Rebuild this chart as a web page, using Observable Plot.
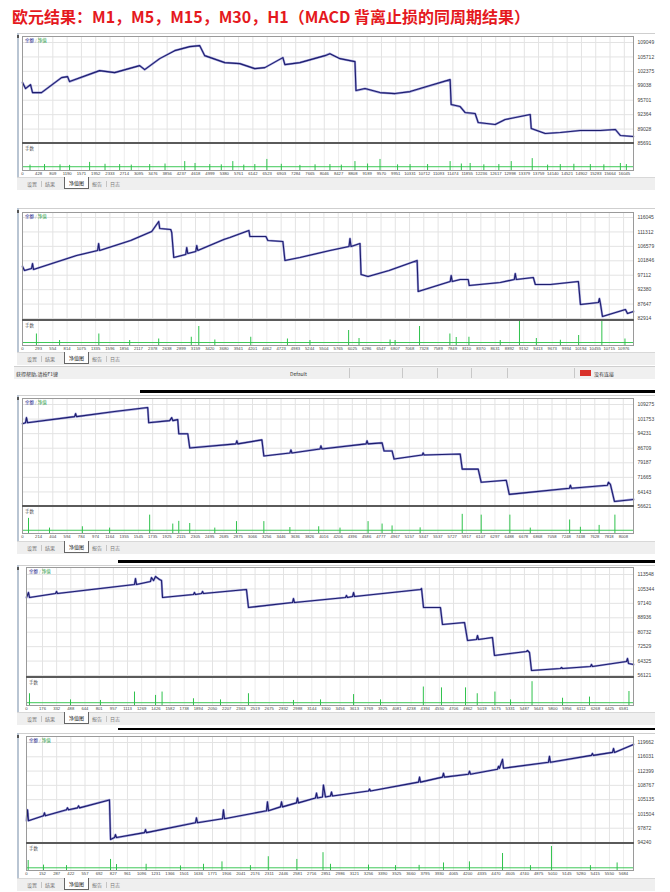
<!DOCTYPE html>
<html><head><meta charset="utf-8">
<script src="https://cdn.jsdelivr.net/npm/d3@7"></script>
<script src="https://cdn.jsdelivr.net/npm/@observablehq/plot@0.6"></script>
<style>
html,body{margin:0;padding:0;background:#fff;}
body{width:670px;height:892px;position:relative;overflow:hidden;font-family:"Liberation Sans","Noto Sans CJK SC",sans-serif;}
body > *{position:absolute;}
#title{left:12px;top:4px;font-weight:bold;font-size:16px;font-family:"Noto Sans CJK SC",sans-serif;color:#e5191e;white-space:nowrap;}
.tab{position:absolute;top:2px;font-size:5px;color:#777;font-family:"Noto Sans CJK SC",sans-serif;white-space:nowrap;}
.sb{position:absolute;top:3px;font-size:5px;color:#333;font-family:"Noto Sans CJK SC",sans-serif;white-space:nowrap;}
</style></head>
<body>
<div id="title"></div>
<script>
const titleText = "欧元结果：M1，M5，M15，M30，H1（MACD 背离止损的同周期结果）";
const tabNames = ["设置", "结果", "净值图", "报告", "日志"];
const legendMain = ["余额", "净值"];
const legendSub = "手数";
const statusTexts = ["获得帮助,请按F1键", "Default", "没有连接"];

// ---- M1 ----
const m1Ticks = [0,428,809,1190,1571,1952,2333,2714,3095,3476,3856,4237,4618,4999,5380,5761,6142,6523,6903,7284,7665,8046,8427,8808,9189,9570,9951,10331,10712,11093,11474,11855,12236,12617,12998,13379,13759,14140,14521,14902,15283,15664,16045];
const m1Levels = [109049,105712,102375,99038,95701,92364,89028,85691];
const m1XMax = 16290;
const m1Balance = [[0,99776],[80,98391],[214,99314],[267,97467],[507,97467],[1041,100930],[1202,101161],[1255,100006],[2056,102547],[2456,102085],[3124,103701],[3257,102778],[3658,105318],[4058,107165],[4459,108088],[4726,108319],[4859,106010],[5393,104394],[5794,104163],[6194,103009],[6461,103240],[6942,105549],[6995,103932],[7396,104394],[8063,106010],[8197,106472],[8464,105318],[8864,104625],[8891,97929],[9131,98391],[9532,97467],[9932,97236],[10333,97698],[10867,99083],[11401,100468],[11428,94696],[11668,94234],[11801,92849],[12068,92618],[12149,90540],[12602,90078],[12869,91233],[13537,92387],[13564,89154],[13937,88000],[14338,88231],[14872,88693],[15406,88693],[15806,88924],[15940,87538],[16287,87307]];
const m1Lots = [[587,2.2],[1255,1.9],[1789,3.0],[2590,2.2],[3391,2.2],[4325,3.3],[4993,2.2],[5607,3.3],[6194,2.2],[6515,4.1],[7396,1.9],[8197,2.2],[8864,3.3],[9532,4.1],[10333,2.2],[11401,3.3],[11935,2.6],[13030,3.3],[13590,4.4],[14338,2.2],[15139,2.2],[15940,2.6],[200,2.0],[1000,2.1],[2200,2.3],[2900,2.0],[3800,2.4],[4600,2.6],[5300,2.1],[5900,2.0],[6900,2.3],[7800,2.1],[8500,2.0],[9200,2.4],[10000,2.1],[10800,2.2],[11700,2.4],[12300,2.1],[12700,2.2],[14000,2.0],[14700,2.3],[15500,2.1],[16100,2.2]];
const m1LotsBase = 1.4;

// ---- M5 ----
const m5Ticks = [0,293,554,814,1075,1335,1596,1856,2117,2378,2638,2899,3159,3420,3680,3941,4201,4462,4723,4983,5244,5504,5765,6025,6286,6547,6807,7068,7328,7589,7849,8110,8370,8631,8892,9152,9413,9673,9934,10194,10455,10715,10976];
const m5Levels = [116045,111312,106579,101846,97112,92380,87647,82914];
const m5XMax = 11157;
const m5Balance = [[0,99970],[37,98658],[165,99314],[183,100954],[201,98986],[988,103578],[1372,105218],[1390,107514],[1408,105218],[1975,108498],[2359,111450],[2487,114730],[2506,112434],[2707,112106],[2725,111122],[2762,102922],[2981,103906],[2999,106202],[3018,104234],[3164,104890],[3182,106858],[3201,105218],[3676,108826],[3786,109482],[4134,111778],[4152,109810],[4444,109810],[4481,108498],[4755,108170],[4792,101938],[5066,102922],[5615,105218],[5962,106530],[5980,109154],[5999,106530],[6163,107514],[6182,97346],[6310,96690],[6694,98658],[7206,101938],[7225,91770],[7810,95050],[7828,97018],[7847,95050],[7993,95706],[8139,95706],[8157,93738],[8724,94722],[8980,95706],[8998,97674],[9017,95706],[9328,96362],[9364,94066],[9639,94066],[10151,95050],[10188,87506],[10517,88162],[10535,89474],[10553,87834],[10590,83570],[11010,85866],[11047,84554],[11157,85210]];
const m5Lots = [[254,4.6],[1394,4.6],[2487,2.6],[3082,3.3],[3219,7.6],[4168,3.3],[4838,2.6],[5955,6.0],[6145,2.8],[7250,7.6],[7804,4.6],[7920,3.2],[8152,3.3],[9075,9.9],[9383,2.8],[10155,4.0],[10579,9.9],[11001,2.6],[677,2.0],[1957,2.0],[3512,2.2],[5249,2.0],[6712,2.2],[8724,2.0],[9822,2.1],[6804,2.0]];
const m5LotsBase = 1.2;

// ---- M15 ----
const m15Ticks = [0,214,404,594,784,974,1164,1355,1545,1735,1925,2115,2305,2495,2685,2875,3066,3256,3446,3636,3826,4016,4206,4396,4586,4777,4967,5157,5347,5537,5727,5917,6107,6297,6488,6678,6868,7058,7248,7438,7628,7818,8008];
const m15Levels = [109275,101753,94231,86709,79187,71665,64143,56621];
const m15XMax = 8144;
const m15Balance = [[0,99368],[40,99889],[53,102495],[67,99889],[694,103016],[708,104580],[721,103016],[1228,105623],[1669,107708],[1682,99889],[1962,100932],[1989,102495],[2003,100932],[2069,101453],[2083,94155],[2203,94155],[2229,86856],[2844,88941],[2857,90505],[2870,88941],[3191,91027],[3217,82686],[3564,84250],[3578,85814],[3591,84250],[3965,86335],[3978,87899],[3991,86335],[4579,88941],[4592,90505],[4606,88941],[4793,89462],[4819,85293],[4926,85293],[4953,81123],[5327,83207],[5340,84250],[5354,83207],[5834,83728],[5861,75909],[6074,75909],[6114,69132],[6448,70175],[6488,62877],[7289,66004],[7303,67569],[7316,66004],[7796,67569],[7810,69132],[7836,68090],[7890,59228],[8144,60270]];
const m15Lots = [[80,5.6],[798,2.5],[1695,6.8],[2083,4.5],[2003,3.5],[2229,3.7],[2852,4.4],[3217,4.4],[3948,2.5],[4606,4.4],[4793,3.5],[4926,2.8],[5861,7.1],[6114,6.8],[6496,6.8],[7293,5.0],[7686,3.0],[7896,6.8],[360,2.0],[1161,2.0],[2563,2.0],[3564,2.2],[4232,2.0],[5300,2.1],[6768,2.0],[7436,2.3]];
const m15LotsBase = 1.2;

// ---- M30 ----
const m30Ticks = [0,176,332,488,644,801,957,1113,1269,1426,1582,1738,1894,2050,2207,2363,2519,2675,2832,2988,3144,3300,3456,3613,3769,3925,4081,4238,4394,4550,4706,4862,5019,5175,5331,5487,5643,5800,5956,6112,6268,6425,6581];
const m30Levels = [113548,105344,97140,88936,80732,72529,64325,56121];
const m30XMax = 6689;
const m30Balance = [[0,100464],[22,103307],[33,100464],[320,102738],[331,103876],[342,102738],[1190,107855],[1201,111266],[1212,107855],[1366,109560],[1377,111834],[1400,110129],[1422,112402],[1466,110697],[1488,110129],[1499,100464],[1840,102170],[1851,103307],[1862,102170],[1929,102738],[1940,103876],[1951,102738],[2424,105010],[2446,94779],[2931,97621],[2942,99895],[2953,97621],[3515,100464],[3526,101601],[3537,100464],[3593,101033],[3604,103307],[3615,101033],[4342,105010],[4353,105578],[4375,94779],[4562,94779],[4584,85115],[4827,86252],[4860,76018],[4959,76587],[4970,78861],[4981,76587],[5135,77724],[5157,67491],[5510,69765],[5521,70333],[5543,69197],[5565,58963],[5885,60101],[5896,60669],[5907,60101],[6215,61238],[6226,62375],[6237,61238],[6612,64080],[6623,65786],[6634,62943],[6689,62375]];
const m30Lots = [[33,4.2],[1190,4.8],[1422,3.6],[1494,4.8],[1840,2.4],[2446,4.2],[2942,1.8],[3604,3.9],[4373,6.6],[4573,6.3],[4838,6.3],[4967,4.2],[5162,4.8],[5571,8.5],[5907,2.6],[6204,3.0],[6639,5.0],[485,2.0],[815,1.8],[2138,2.0],[3240,2.0],[3901,2.0],[5334,2.0]];
const m30LotsBase = 1.0;

// ---- H1 ----
const h1Ticks = [0,152,287,422,557,692,827,961,1096,1231,1366,1501,1636,1771,1906,2041,2176,2311,2446,2581,2716,2851,2986,3121,3256,3390,3525,3660,3795,3930,4065,4200,4335,4470,4605,4740,4875,5010,5145,5280,5415,5550,5684];
const h1Levels = [119662,116031,112399,108767,105135,101504,97872,94240];
const h1XMax = 5779;
const h1Balance = [[0,99777],[10,102546],[19,99777],[162,101036],[171,101791],[180,101036],[381,102546],[390,103050],[400,102546],[486,103050],[495,103553],[505,103050],[790,105063],[800,94995],[838,95498],[847,96254],[857,95498],[1123,96757],[1133,97512],[1142,96757],[1609,99274],[1618,100533],[1628,99274],[1866,100281],[1875,102546],[1885,100281],[2285,102294],[2294,104560],[2304,102294],[2418,103301],[2428,104560],[2437,103301],[2570,104308],[2580,105567],[2589,104308],[2751,105567],[2761,106825],[2770,105567],[2818,105818],[2827,108838],[2846,105818],[2894,106070],[2904,107077],[2913,106070],[3256,107328],[3266,107832],[3275,107328],[3732,109593],[3742,110852],[3751,109593],[3960,110852],[3970,111859],[3979,110852],[4208,111607],[4218,112362],[4227,111607],[4484,112866],[4494,113621],[4503,113118],[4532,115383],[4541,113118],[4969,114628],[4979,116138],[4988,114628],[5378,116390],[5388,116893],[5397,116390],[5579,117144],[5589,118151],[5598,117144],[5779,119158]];
const h1Lots = [[16,3.7],[162,2.0],[381,1.8],[800,4.1],[857,2.2],[1139,2.3],[1685,2.3],[1861,3.2],[2302,5.1],[2574,4.1],[2823,6.6],[2894,2.3],[3256,2.0],[3738,1.9],[3970,2.8],[4217,3.2],[4532,6.3],[4998,8.9],[5623,2.8],[1466,1.7],[2132,1.8],[3513,1.8],[4798,1.8],[5369,1.8]];
const h1LotsBase = 1.0;

const panels = [
  {ticks:m1Ticks, levels:m1Levels, xMax:m1XMax, balance:m1Balance, lots:m1Lots, base:m1LotsBase},
  {ticks:m5Ticks, levels:m5Levels, xMax:m5XMax, balance:m5Balance, lots:m5Lots, base:m5LotsBase},
  {ticks:m15Ticks, levels:m15Levels, xMax:m15XMax, balance:m15Balance, lots:m15Lots, base:m15LotsBase},
  {ticks:m30Ticks, levels:m30Levels, xMax:m30XMax, balance:m30Balance, lots:m30Lots, base:m30LotsBase},
  {ticks:h1Ticks, levels:h1Levels, xMax:h1XMax, balance:h1Balance, lots:h1Lots, base:h1LotsBase}
];

// page layout (pixels)
const layout = [
  {top:33, frameTop:36, firstY:42, lastY:143, divider:143, subBottom:170, left:22, tabsTop:177},
  {top:208, frameTop:212, firstY:217, lastY:318, divider:320, subBottom:345, left:22, tabsTop:352, status:366},
  {top:395, frameTop:398, firstY:404, lastY:506, divider:506, subBottom:533, left:22, tabsTop:541, rule:391, ruleW:3, ruleX:140},
  {top:565, frameTop:567, firstY:574, lastY:675, divider:677, subBottom:705, left:26, tabsTop:712, rule:561, ruleW:3, ruleX:118},
  {top:733, frameTop:736, firstY:742, lastY:842, divider:843, subBottom:870, left:26, tabsTop:878, rule:729, ruleW:1.5, ruleX:118}
];

document.getElementById("title").textContent = titleText;

function box(style, text) {
  const e = document.createElement("div");
  e.style.position = "absolute";
  Object.assign(e.style, style);
  if (text != null) e.textContent = text;
  document.body.appendChild(e);
  return e;
}
function place(node, x, y) {
  node.style.position = "absolute";
  node.style.left = x + "px";
  node.style.top = y + "px";
  document.body.appendChild(node);
}

const OX = 17, W = 640, RIGHT = 633;
const gridColor = "#e3e3e3";
const fontStyle = {fontFamily: "'Liberation Sans', sans-serif", background: "transparent", overflow: "visible", color: "#444"};

panels.forEach((p, k) => {
  const g = layout[k];
  box({left: OX + "px", top: g.top + "px", width: "638px", height: "1px", background: "#cfcfcf"});
  if (g.rule) {
    box({left: g.ruleX + "px", top: (g.rule - 1) + "px", width: (655 - g.ruleX) + "px", height: g.ruleW + "px", background: "#000"});
  }
  box({left: OX + "px", top: g.top + "px", width: "2px", height: (g.tabsTop + 12 - g.top) + "px", background: "#b9c5d3"});
  box({left: OX + "px", top: (g.top + 2) + "px", width: "2px", height: "3px", background: "#555"});
  box({left: OX + "px", top: (g.tabsTop + 1) + "px", width: "3px", height: "10px", background: "#3a4a78"});

  const mainH = g.divider - g.frameTop;
  const ppv = (g.lastY - g.firstY) / (p.levels[0] - p.levels[7]);
  const yDom = [p.levels[7] - (g.divider - g.lastY) / ppv, p.levels[0] + (g.firstY - g.frameTop) / ppv];

  const main = Plot.plot({
    width: W, height: mainH,
    marginLeft: g.left - OX, marginRight: W - (RIGHT - OX), marginTop: 0, marginBottom: 0,
    style: {...fontStyle, fontSize: "5px"},
    x: {domain: [0, p.xMax], axis: null},
    y: {domain: yDom, axis: "right", ticks: p.levels, tickFormat: d => String(d), tickSize: 0, tickPadding: 4, label: null},
    marks: [
      Plot.ruleX(p.ticks, {stroke: gridColor, strokeWidth: 1}),
      Plot.ruleY(p.levels, {stroke: gridColor, strokeWidth: 1}),
      Plot.line(p.balance, {x: d => d[0], y: d => d[1], stroke: "#4a4ab8", strokeWidth: 2.2, strokeOpacity: 0.55}),
      Plot.line(p.balance, {x: d => d[0], y: d => d[1], stroke: "#1d1d6e", strokeWidth: 1.1}),
      Plot.frame({stroke: "#9a9a9a"})
    ]
  });
  place(main, OX, g.frameTop);

  const lg = box({left: (g.left + 3) + "px", top: (g.frameTop + 1) + "px", fontSize: "4.5px", fontFamily: "'Noto Sans CJK SC',sans-serif", whiteSpace: "nowrap"});
  const s1 = document.createElement("span"); s1.textContent = legendMain[0]; s1.style.color = "#22228a";
  const s2 = document.createElement("span"); s2.textContent = " / "; s2.style.color = "#999";
  const s3 = document.createElement("span"); s3.textContent = legendMain[1]; s3.style.color = "#1a9a3a";
  lg.append(s1, s2, s3);

  const subH = g.subBottom - g.divider;
  const sub = Plot.plot({
    width: W, height: subH + 9,
    marginLeft: g.left - OX, marginRight: W - (RIGHT - OX), marginTop: 0, marginBottom: 9,
    style: {...fontStyle, fontSize: "4.2px"},
    x: {domain: [0, p.xMax], ticks: p.ticks, tickFormat: d => String(d), tickSize: 0, tickPadding: 2, label: null},
    y: {domain: [0, 10], axis: null},
    marks: [
      Plot.ruleX(p.ticks, {stroke: "#ececec", strokeWidth: 1}),
      Plot.ruleY([p.base], {stroke: "#3ec857", strokeWidth: 1}),
      Plot.ruleX(p.lots, {x: d => d[0], y1: 0, y2: d => d[1], stroke: "#2fc24c", strokeWidth: 1}),
      Plot.frame({stroke: "#9a9a9a"})
    ]
  });
  place(sub, OX, g.divider);
  box({left: (g.left + 3) + "px", top: (g.divider + 2) + "px", fontSize: "4.5px", color: "#555", fontFamily: "'Noto Sans CJK SC',sans-serif"}, legendSub);

  box({left: g.left + "px", top: (g.divider - 1) + "px", width: (RIGHT - g.left + 1) + "px", height: "2px", background: "#5a5a5a"});

  const tb = box({left: OX + "px", top: g.tabsTop + "px", width: "638px", height: "12px", background: "#efefef", borderTop: "1px solid #d8d8d8"});
  const tabX = [10, 28, 47, 75, 93];
  tabNames.forEach((t, j) => {
    const s = document.createElement("div");
    s.className = "tab";
    s.textContent = t;
    s.style.left = tabX[j] + "px";
    if (j === 2) {
      s.style.color = "#111";
      s.style.background = "#fff";
      s.style.border = "1px solid #666";
      s.style.borderTop = "none";
      s.style.top = "-1px";
      s.style.padding = "2px 4px";
    }
    tb.appendChild(s);
    if (j === 0 || j === 3) {
      const sep = document.createElement("div");
      sep.style.cssText = "position:absolute;top:3px;width:1px;height:6px;background:#c4c4c4;left:" + (tabX[j] + 14) + "px";
      tb.appendChild(sep);
    }
  });

  if (g.status) {
    const sb = box({left: "14px", top: g.status + "px", width: "641px", height: "12px", background: "#f0f0f0", borderTop: "1px solid #cfcfcf"});
    const t1 = document.createElement("div"); t1.className = "sb"; t1.textContent = statusTexts[0]; t1.style.left = "2px"; sb.appendChild(t1);
    const t2 = document.createElement("div"); t2.className = "sb"; t2.textContent = statusTexts[1]; t2.style.left = "276px"; sb.appendChild(t2);
    [335, 388, 423, 457, 493, 560].forEach(x => {
      const sep = document.createElement("div");
      sep.style.cssText = "position:absolute;top:1px;width:1px;height:10px;background:#c8c8c8;left:" + x + "px";
      sb.appendChild(sep);
    });
    const ic = document.createElement("div");
    ic.style.cssText = "position:absolute;top:3px;left:566px;width:11px;height:6px;background:#d9322b;";
    sb.appendChild(ic);
    const t3 = document.createElement("div"); t3.className = "sb"; t3.textContent = statusTexts[2]; t3.style.left = "580px"; sb.appendChild(t3);
  }
});
</script>
</body></html>
